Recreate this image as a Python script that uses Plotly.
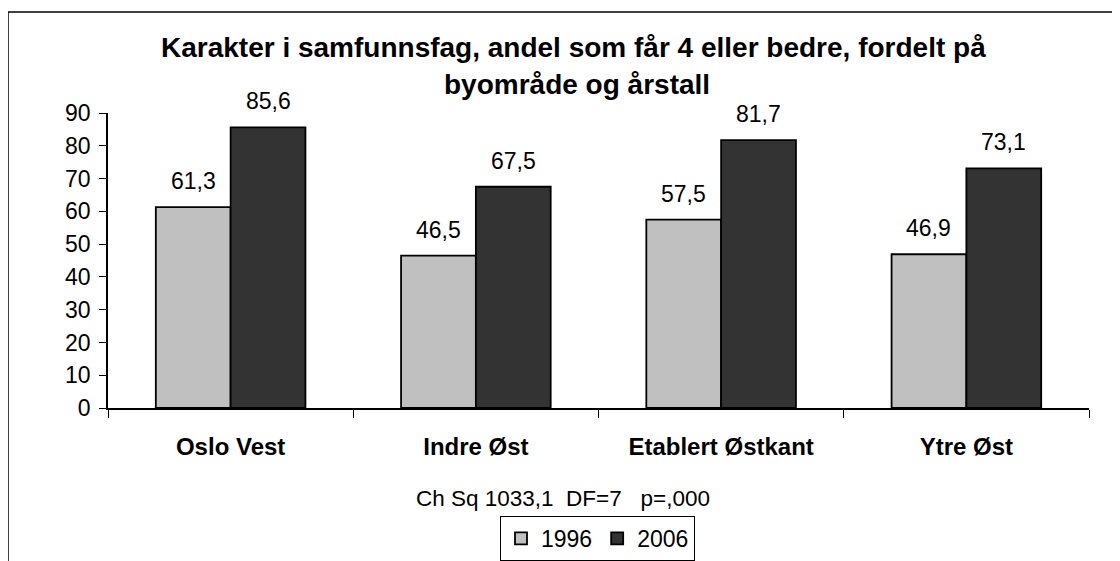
import plotly.graph_objects as go

# data
areas = ['Oslo Vest', 'Indre Øst', 'Etablert Østkant', 'Ytre Øst']
years = ['1996', '2006']
values_1996 = [61.3, 46.5, 57.5, 46.9]
values_2006 = [85.6, 67.5, 81.7, 73.1]
colors = ['#C0C0C0', '#333333']

# page has an 8px body margin, so the figure is shrunk/shifted to fit the window
OFF = 8
W, H = 1120 - OFF, 561 - OFF
plot_left, plot_right, plot_top, plot_bottom = 108, 1089, 113, 408  # screen px
L, T = plot_left - OFF, plot_top - OFF
R, B = W - (plot_right - OFF), H - (plot_bottom - OFF)
pw, ph = W - L - R, H - T - B


def px_x(x):
    return (x - plot_left) / pw


def px_y(y):
    return (plot_bottom - y) / ph


def fmt(v):
    return f'{v:.1f}'.replace('.', ',')


FONT = 'Liberation Sans, Arial, sans-serif'

fig = go.Figure()
for name, vals, col in [(years[0], values_1996, colors[0]), (years[1], values_2006, colors[1])]:
    fig.add_trace(go.Bar(x=areas, y=vals, name=name, marker_color=col,
                         marker_line=dict(color='black', width=1.8)))

# value labels above each bar
bar_px = pw / len(areas) * (1 - 0.39) / 2
annotations = []
for vals, shift in [(values_1996, -bar_px / 2), (values_2006, bar_px / 2)]:
    for a, v in zip(areas, vals):
        annotations.append(dict(x=a, y=v, text=fmt(v), showarrow=False, xshift=shift,
                                yanchor='bottom', yshift=11,
                                font=dict(size=23, color='black')))

title_font = dict(size=28, color='black', family=FONT)
annotations += [
    dict(text='<b>Karakter i samfunnsfag, andel som får 4 eller bedre, fordelt på</b>',
         xref='paper', yref='paper', x=px_x(573), y=px_y(48), showarrow=False,
         yanchor='middle', font=title_font),
    dict(text='<b>byområde og årstall</b>',
         xref='paper', yref='paper', x=px_x(577), y=px_y(85), showarrow=False,
         yanchor='middle', font=title_font),
    dict(text='Ch Sq 1033,1\u00a0\u00a0DF=7\u00a0\u00a0\u00a0p=,000',
         xref='paper', yref='paper', x=px_x(563), y=px_y(498), showarrow=False,
         yanchor='middle', font=dict(size=22.5, color='black')),
]

fig.update_layout(
    width=W, height=H,
    margin=dict(l=L, r=R, t=T, b=B, autoexpand=False),
    paper_bgcolor='white', plot_bgcolor='white',
    font=dict(family=FONT, size=22, color='black'),
    barmode='group', bargap=0.39, bargroupgap=0,
    showlegend=True,
    legend=dict(orientation='h', x=px_x(500), xanchor='left', y=px_y(516), yanchor='top',
                bordercolor='black', borderwidth=1, font=dict(size=23),
                itemwidth=30, tracegroupgap=0),
    annotations=annotations,
    shapes=[
        dict(type='line', xref='paper', yref='paper', x0=px_x(8), x1=px_x(8),
             y0=px_y(12), y1=px_y(600), line=dict(color='black', width=1.5)),
        dict(type='line', xref='paper', yref='paper', x0=px_x(8), x1=px_x(1200),
             y0=px_y(12), y1=px_y(12), line=dict(color='black', width=1.5)),
    ],
)
fig.update_xaxes(showline=True, linecolor='black', linewidth=1.5, ticks='outside',
                 tickson='boundaries', ticklen=8, tickcolor='black', showgrid=False,
                 tickfont=dict(size=24, weight='bold'), ticklabelstandoff=16,
                 automargin=False)
fig.update_yaxes(range=[0, 90], dtick=10, showline=True, linecolor='black', linewidth=1.5,
                 ticks='outside', ticklen=7, tickcolor='black', showgrid=False,
                 zeroline=False, tickfont=dict(size=23), ticklabelstandoff=4,
                 automargin=False)

fig.write_html('out.html')
